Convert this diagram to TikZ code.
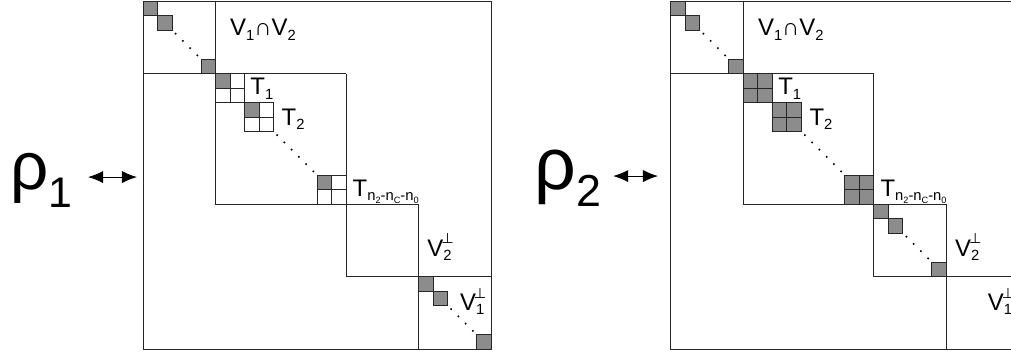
\documentclass[tikz,border=0pt]{standalone}
\usepackage{fontspec}
\setmainfont{Liberation Sans}
\newfontfamily\tackfont{DejaVu Sans}
\usetikzlibrary{arrows.meta,positioning,calc}

\newcommand{\subtxt}[1]{\raisebox{-4pt}{\fontsize{14.5}{14.5}\selectfont #1}}
\newcommand{\subsubtxt}[1]{\raisebox{-2.5pt}{\fontsize{9}{9}\selectfont #1}}
\newcommand{\perpsup}{\rlap{\kern-2pt\raisebox{12.5pt}{\tackfont\fontsize{14}{14}\selectfont ⊥}}}

\begin{document}
\begin{tikzpicture}[x=0.5cm, y=-0.5cm,
    frame/.style={draw=black!85, line width=0.75pt},
    graysq/.style={draw=black!85, fill=black!45, line width=0.8pt},
    whitesq/.style={draw=black!85, fill=white, line width=0.8pt},
    lbl/.style={inner sep=0pt, anchor=base west, font=\fontsize{23.5}{24}\selectfont},
    dblarrow/.style={{Latex[length=5.2mm,width=4.2mm]}-{Latex[length=5.2mm,width=4.2mm]}, line width=1pt}]
    \useasboundingbox (-9.86,-0.07) rectangle (59.86,24.62);
    \clip (-9.86,-0.07) rectangle (59.86,24.62);

    % rho_1
    \node[lbl] (rho1) at (-9.15,13.0) {\fontsize{66}{66}\selectfont ρ\raisebox{-18pt}{\fontsize{42}{42}\selectfont 1}};
    \coordinate (a1l) at (-3.79,12.14);
    \coordinate (a1r) at (-0.41,12.14);
    \draw[dblarrow] (a1l) -- (a1r);

    \begin{scope}
      \draw[frame] (0,0) rectangle (24,24);
      \draw[frame] (0,5) -- (14,5) (5,0) -- (5,14) -- (19,14) (14,5) -- (14,19) -- (24,19) (19,14) -- (19,24);
      % V1 cap V2
      \foreach \p in {0,1,4} \draw[graysq] (\p,\p) rectangle ++(1,1);
      % T blocks
      \foreach \p in {5,7,12}{
        \foreach \i/\j in {0/0,1/0,0/1,1/1} \draw[whitesq] (\p+\i,\p+\j) rectangle ++(1,1);
        \draw[graysq] (\p,\p) rectangle ++(1,1);
      }
      % V1 perp
      \foreach \p in {19,20,23} \draw[graysq] (\p,\p) rectangle ++(1,1);
      \foreach \a/\n in {2/4,9/6,21/4}
        \foreach \k in {1,...,\n} \fill (\a+0.5*\k-0.25,\a+0.5*\k-0.25) circle (1.1pt);
      \node[lbl] (capL) at (6.0,2.41) {V\subtxt{1}∩V\subtxt{2}};
      \node[lbl] (t1L) at (7.4,6.48) {T\subtxt{1}};
      \node[lbl] (t2L) at (9.55,8.55) {T\subtxt{2}};
      \node[lbl] (tnL) at (14.45,13.5) {T\subtxt{n\subsubtxt{2}-n\subsubtxt{C}-n\subsubtxt{0}}};
      \node[lbl] (v2L) at (19.6,17.63) {V\perpsup\subtxt{2}};
      \node[lbl] (v1L) at (21.85,21.36) {V\perpsup\subtxt{1}};
    \end{scope}

    % rho_2
    \begin{scope}[shift={(36.4,0)}]
      \node[lbl] (rho2) at (-9.4,13.0) {\fontsize{72}{72}\selectfont ρ\raisebox{-17pt}{\fontsize{44}{44}\selectfont 2}};
      \coordinate (a2l) at (-3.98,12.07);
      \coordinate (a2r) at (-0.88,12.07);
      \draw[dblarrow] (a2l) -- (a2r);

      \draw[frame] (0,0) rectangle (24,24);
      \draw[frame] (0,5) -- (14,5) (5,0) -- (5,14) -- (19,14) (14,5) -- (14,19) -- (24,19) (19,14) -- (19,24);
      % V1 cap V2
      \foreach \p in {0,1,4} \draw[graysq] (\p,\p) rectangle ++(1,1);
      % T blocks
      \foreach \p in {5,7,12}
        \foreach \i/\j in {0/0,1/0,0/1,1/1} \draw[graysq] (\p+\i,\p+\j) rectangle ++(1,1);
      % V2 perp
      \foreach \p in {14,15,18} \draw[graysq] (\p,\p) rectangle ++(1,1);
      \foreach \a/\n in {2/4,9/6,16/4}
        \foreach \k in {1,...,\n} \fill (\a+0.5*\k-0.25,\a+0.5*\k-0.25) circle (1.1pt);
      \node[lbl] (capR) at (6.0,2.41) {V\subtxt{1}∩V\subtxt{2}};
      \node[lbl] (t1R) at (7.4,6.48) {T\subtxt{1}};
      \node[lbl] (t2R) at (9.55,8.55) {T\subtxt{2}};
      \node[lbl] (tnR) at (14.45,13.5) {T\subtxt{n\subsubtxt{2}-n\subsubtxt{C}-n\subsubtxt{0}}};
      \node[lbl] (v2R) at (19.6,17.63) {V\perpsup\subtxt{2}};
      \node[lbl] (v1R) at (21.85,21.36) {V\perpsup\subtxt{1}};
    \end{scope}
\end{tikzpicture}
\end{document}
